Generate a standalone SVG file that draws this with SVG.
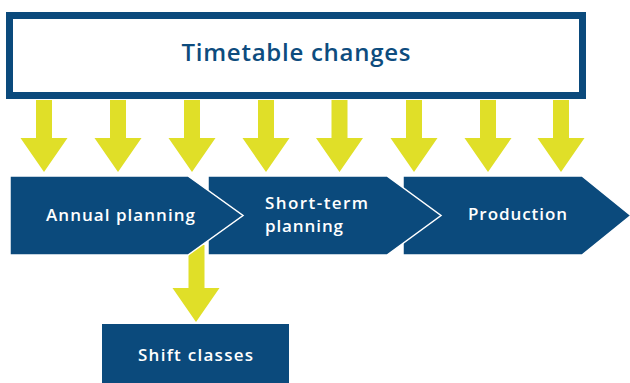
<svg xmlns="http://www.w3.org/2000/svg" width="630" height="383" viewBox="0 0 630 383">
<defs>
<style>
.blue{fill:#0b4a7c;}
.chev{fill:#0b4a7c;stroke:#ffffff;stroke-width:1.5;stroke-linejoin:miter;}
.arrow{fill:#e0df28;}
.lbl{font-family:"Open Sans","Liberation Sans",sans-serif;font-weight:600;font-size:17px;fill:#ffffff;}
.title{font-family:"Open Sans","Liberation Sans",sans-serif;font-weight:600;font-size:24px;fill:#0d4c7e;}
</style>
</defs>
<rect width="630" height="383" fill="#ffffff"/>
<g id="timetable-changes">
<rect x="9.5" y="15.5" width="573" height="80" fill="#ffffff" stroke="#0b4a7c" stroke-width="7"/>
<text class="title" x="296" y="61" text-anchor="middle" textLength="229" lengthAdjust="spacing">Timetable changes</text>
</g>
<g id="connectors">
<path class="arrow" d="M36,100H52V138H67.5L44,172L20.5,138H36Z"/>
<path class="arrow" d="M110,100H126V138H141.5L118,172L94.5,138H110Z"/>
<path class="arrow" d="M184,100H200V138H215.5L192,172L168.5,138H184Z"/>
<path class="arrow" d="M258,100H274V138H289.5L266,172L242.5,138H258Z"/>
<path class="arrow" d="M331.5,100H347.5V138H363L339.5,172L316,138H331.5Z"/>
<path class="arrow" d="M406,100H422V138H437.5L414,172L390.5,138H406Z"/>
<path class="arrow" d="M480,100H496V138H511.5L488,172L464.5,138H480Z"/>
<path class="arrow" d="M553,100H569V138H584.5L561,172L537.5,138H553Z"/>
<path class="arrow" d="M188.5,245H204.5V288H219.5L196,322L172.5,288H188.5Z"/>
</g>
<g id="production">
<polygon class="chev" points="403,176 582,176 631,215.5 582,255 403,255"/>
<text class="lbl" x="468" y="220" textLength="99" lengthAdjust="spacing">Production</text>
</g>
<g id="short-term-planning">
<polygon class="chev" points="208,176 387,176 441,215.5 387,255 208,255"/>
<text class="lbl" x="265" y="209" textLength="103" lengthAdjust="spacing">Short-term</text>
<text class="lbl" x="265" y="232" textLength="78" lengthAdjust="spacing">planning</text>
</g>
<g id="annual-planning">
<polygon class="chev" points="10,176 188,176 243,215.5 188,255 10,255"/>
<text class="lbl" x="46" y="221" textLength="149" lengthAdjust="spacing">Annual planning</text>
</g>
<g id="shift-classes">
<rect class="blue" x="102" y="324" width="187" height="65"/>
<text class="lbl" x="138" y="361" textLength="115" lengthAdjust="spacing">Shift classes</text>
</g>
</svg>
